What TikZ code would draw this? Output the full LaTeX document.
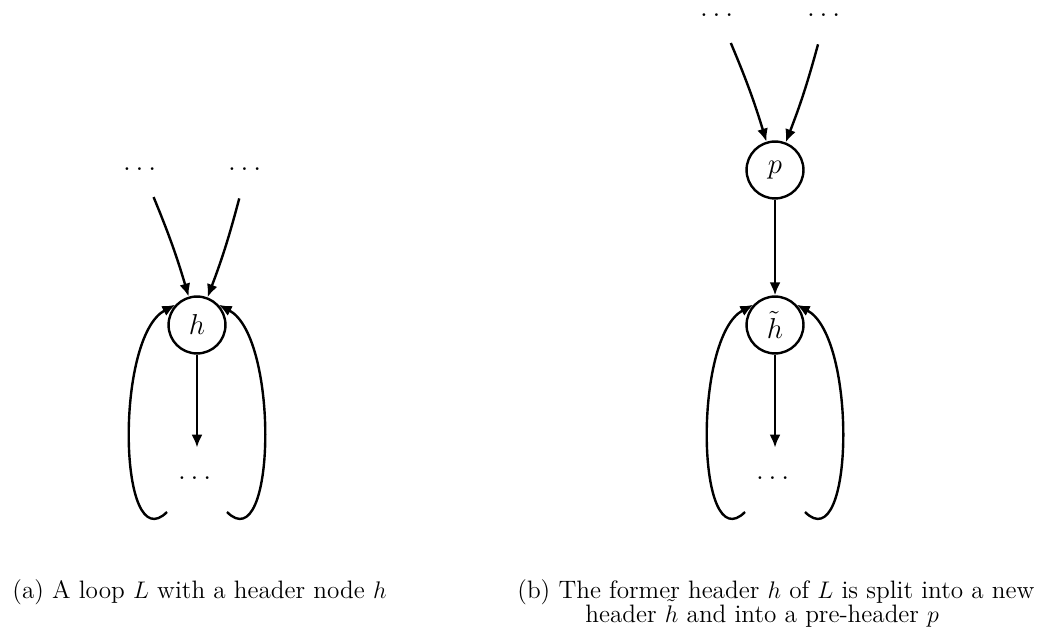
\documentclass[tikz,border=0pt]{standalone}
\usepackage{amsmath,amssymb}
\usepackage{tikz}
\usetikzlibrary{arrows.meta}
\tikzset{
  block/.style={circle,draw,line width=1.2pt,minimum size=1cm,inner sep=0pt,font=\Large},
  dots/.style={circle,minimum size=30pt,inner sep=0pt,font=\Large},
  edge/.style={-{Latex[length=6.5pt,width=5.5pt]},line width=1.2pt},
  capt/.style={anchor=base west,inner sep=0pt,font=\fontsize{12.6}{14}\selectfont}
}

\begin{document}
\begin{tikzpicture}[x=0.5pt,y=-0.5pt]
\useasboundingbox (0,0) rectangle (1047,635);
\node[block] (h) at (197,325) {$h$};
\node[dots] (a1) at (142,169) {$\dots$};
\node[dots] (a2) at (247,169) {$\dots$};
\node[dots] (a3) at (197,478) {$\dots$};
\coordinate (al) at (167,512);
\coordinate (ar) at (227,512);
\node[block] (p) at (775,170) {$p$};
\node[block] (ht) at (775,325) {$\tilde{h}$};
\node[dots] (b1) at (719,15) {$\dots$};
\node[dots] (b2) at (826,15) {$\dots$};
\node[dots] (b3) at (775,478) {$\dots$};
\coordinate (bl) at (745,512);
\coordinate (br) at (805,512);
\node[capt] (capa) at (12,598) {(a) A loop $L$ with a header node $h$};
\node[capt] (capb) at (517,598) {(b) The former header $h$ of $L$ is split into a new};
\node[capt] (capbb) at (585,622) {header $\tilde{h}$ and into a pre-header $p$};
\draw[edge] (a1) to[bend left=3] (h);
\draw[edge] (a2) to[bend left=3] (h);
\draw[edge] (h) -- (a3);
\draw[edge] (al) to[out=225,in=208,looseness=0.85] (h.137);
\draw[edge] (ar) to[out=-45,in=-28,looseness=0.85] (h.43);
\draw[edge] (b1) to[bend left=3] (p);
\draw[edge] (b2) to[bend left=3] (p);
\draw[edge] (p) -- (ht);
\draw[edge] (ht) -- (b3);
\draw[edge] (bl) to[out=225,in=208,looseness=0.85] (ht.137);
\draw[edge] (br) to[out=-45,in=-28,looseness=0.85] (ht.43);
\end{tikzpicture}
\end{document}
